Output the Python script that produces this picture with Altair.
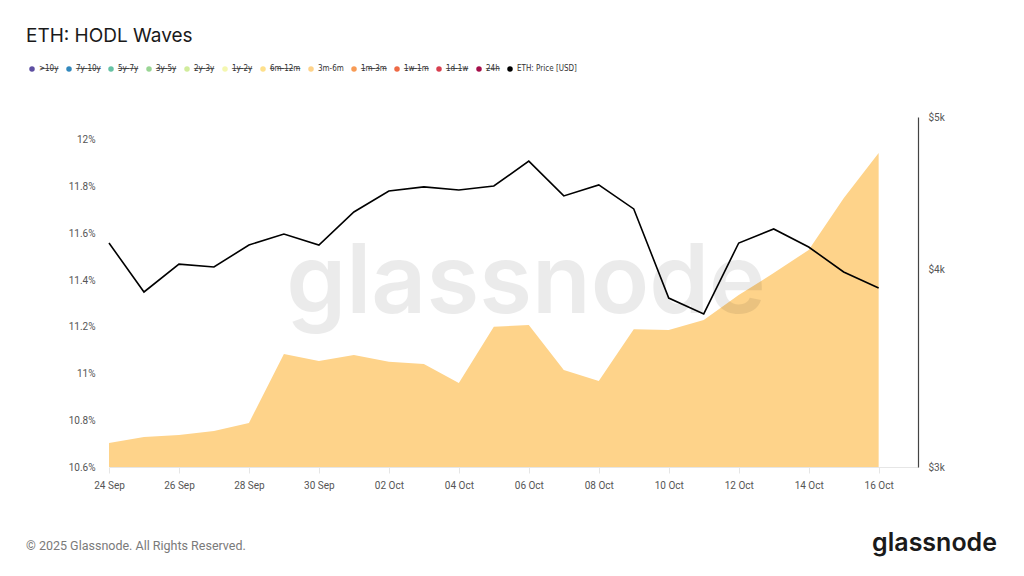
import altair as alt
import pandas as pd

# ---------------- data ----------------
dates = pd.date_range("2025-09-24", "2025-10-16", freq="D").strftime("%Y-%m-%d").tolist()

share_3m_6m = [10.703, 10.728, 10.737, 10.754, 10.788, 11.084, 11.054, 11.079, 11.050,
               11.041, 10.960, 11.200, 11.208, 11.015, 10.968, 11.190, 11.186, 11.229,
               11.336, 11.430, 11.529, 11.750, 11.944]

eth_price = [4160, 3873, 4034, 4017, 4148, 4215, 4148, 4353, 4488, 4515, 4495, 4521,
             4688, 4456, 4528, 4372, 3839, 3751, 4160, 4246, 4136, 3988, 3896]

legend_names = [">10y", "7y-10y", "5y-7y", "3y-5y", "2y-3y", "1y-2y", "6m-12m",
                "3m-6m", "1m-3m", "1w-1m", "1d-1w", "24h", "ETH: Price [USD]"]
legend_colors = ["#5e4fa2", "#3288bd", "#66c2a5", "#99d594", "#d1ec9c", "#f4f7b0",
                 "#fee08b", "#fed38a", "#f89b55", "#ee6a45", "#d8404f", "#a50f4a", "#000000"]
legend_visible = ["3m-6m", "ETH: Price [USD]"]

left_ticks = [10.6, 10.8, 11.0, 11.2, 11.4, 11.6, 11.8, 12.0]
right_ticks = [3000, 4000, 5000]


def strike(s):
    return "".join(c + "\u0336" for c in s)


legend_labels = [n if n in legend_visible else strike(n) for n in legend_names]
label_of = dict(zip(legend_names, legend_labels))

df = pd.DataFrame({
    "date": dates,
    "share": share_3m_6m,
    "price": eth_price,
    "band": label_of["3m-6m"],
    "pseries": label_of["ETH: Price [USD]"],
})

FONT = "Roboto"

x_ticks = [alt.DateTime(year=2025, month=int(d[5:7]), date=int(d[8:10]), utc=True)
           for d in dates[::2]]
x_scale = alt.Scale(
    type="utc",
    domain=[alt.DateTime(year=2025, month=9, date=24, utc=True),
            alt.DateTime(year=2025, month=10, date=17, hours=3, utc=True)],
)
x_enc = alt.X(
    "date:T",
    scale=x_scale,
    title=None,
    axis=alt.Axis(values=x_ticks, format="%d %b", labelFont=FONT, labelFontSize=10,
                  labelColor="#555555", tickColor="#e6e6e6", domainColor="#e6e6e6",
                  tickSize=6, labelPadding=7, grid=False, labelFlush=False),
)

color_scale = alt.Scale(domain=legend_labels, range=legend_colors)
legend = alt.Legend(
    title=None, orient="none", legendX=-81, legendY=-52, direction="horizontal",
    columns=len(legend_labels), symbolType="circle", symbolSize=30, symbolStrokeWidth=0,
    labelFont="DejaVu Sans Condensed", labelFontSize=8, labelColor="#333333",
    columnPadding=6, labelOffset=3, symbolOpacity=1,
)

area = alt.Chart(df).mark_area(opacity=1, interpolate="linear", clip=True).encode(
    x=x_enc,
    y=alt.Y("share:Q", scale=alt.Scale(domain=[10.6, 12.098], nice=False, zero=False),
            title=None,
            axis=alt.Axis(values=left_ticks, labelExpr="format(datum.value, '.1~f') + '%'",
                          orient="left", domain=False, ticks=False, grid=False,
                          labelFont=FONT, labelFontSize=10, labelColor="#555555",
                          labelPadding=14)),
    color=alt.Color("band:N", scale=color_scale, legend=legend),
)

line = alt.Chart(df).mark_line(strokeWidth=1.6, interpolate="linear").encode(
    x=x_enc,
    y=alt.Y("price:Q", scale=alt.Scale(type="log", domain=[3000, 5000], nice=False),
            title=None,
            axis=alt.Axis(values=right_ticks, labelExpr="'$' + (datum.value / 1000) + 'k'",
                          orient="right", domain=True, domainColor="#444444",
                          domainWidth=1.2, ticks=False, grid=False, labelFont=FONT,
                          labelFontSize=10, labelColor="#555555", labelPadding=10,
                          offset=0)),
    color=alt.Color("pseries:N", scale=color_scale, legend=legend),
)

one = pd.DataFrame({"a": [0]})


def txt(text, x, y, size, color, align="left", weight=400, font=FONT, opacity=1.0):
    return alt.Chart(one).mark_text(
        text=text, align=align, baseline="alphabetic", fontSize=size, color=color,
        fontWeight=weight, font=font, opacity=opacity,
    ).encode(x=alt.value(x), y=alt.value(y))


watermark = txt("glassnode", 417, 196, 96, "#000000", align="center", weight=600,
                font="Inter", opacity=0.075)
title = txt("ETH: HODL Waves", -83, -75, 19, "#1a1a1a", font="Inter")
footer = txt("\u00a9 2025 Glassnode. All Rights Reserved.", -83, 433, 12.5, "#7a7a7a")
logo = txt("glassnode", 888, 434, 25, "#1a1a1a", align="right", weight=600, font="Inter")

chart = alt.layer(area, watermark, line, title, footer, logo).resolve_scale(
    y="independent"
).properties(
    width=809, height=350,
    background="white",
    autosize=alt.AutoSizeParams(type="none"),
    padding={"left": 101, "top": 109, "right": 90, "bottom": 95},
).configure_view(stroke=None)

chart.save("out.html", embed_options={"renderer": "svg", "actions": False})
